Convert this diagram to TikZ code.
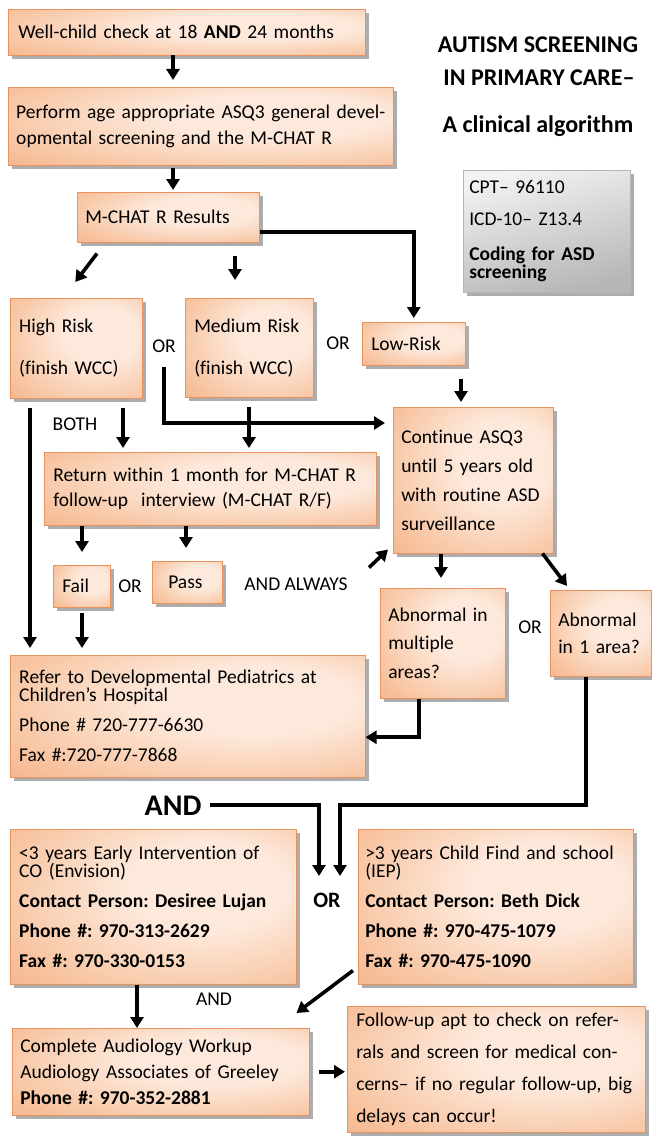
\documentclass[tikz,border=0pt]{standalone}
\usepackage{fontspec}
\setmainfont{Carlito}[Ligatures=NoCommon]
\usetikzlibrary{arrows.meta,shadows,calc}
\frenchspacing

\definecolor{peachdark}{RGB}{239,155,104}
\definecolor{peachmid}{RGB}{247,193,156}
\definecolor{peachlight}{RGB}{253,233,220}
\definecolor{peachedge}{RGB}{232,146,96}
\definecolor{greylight}{RGB}{242,242,242}
\definecolor{greymid}{RGB}{222,222,222}
\definecolor{greydark}{RGB}{182,182,182}

\pgfdeclareradialshading{peachfill}{\pgfpoint{12bp}{8bp}}{%
  color(0bp)=(peachlight); color(14bp)=(peachlight); color(36bp)=(peachmid);
  color(58bp)=(peachdark); color(70bp)=(peachdark)}

\newcommand\txtsz[1]{\fontsize{19.5}{#1}\selectfont}

\tikzset{
  box/.style={draw=peachedge, line width=0.5pt, shading=peachfill, shade,
    drop shadow={shadow xshift=3.5pt, shadow yshift=-4pt, opacity=0.32, fill=black},
    anchor=north west, align=left, inner xsep=9pt, inner ysep=0pt},
  greybox/.style={draw=greydark, line width=0.5pt, shade, top color=greylight,
    middle color=greymid, bottom color=greydark, shading angle=15,
    drop shadow={shadow xshift=3.5pt, shadow yshift=-4pt, opacity=0.32, fill=black},
    anchor=north west, align=left, inner xsep=6pt, inner ysep=0pt},
  lbl/.style={anchor=base, font=\txtsz{20}, inner sep=1pt},
  arr/.style={line width=3.6pt, -{Triangle[length=11pt, width=13pt]}},
}

\begin{document}
\begin{tikzpicture}[x=1pt, y=-1pt]
\fill[white] (0,0) rectangle (651,1137);
\useasboundingbox (0,0) rectangle (651,1137);

% title and coding box
\node[anchor=base, font=\fontsize{24}{28}\selectfont\bfseries] (title1) at (538,53) {AUTISM SCREENING};
\node[anchor=base, font=\fontsize{24}{28}\selectfont\bfseries] (title2) at (539,86) {IN PRIMARY CARE–};
\node[anchor=base, font=\fontsize{24}{28}\selectfont\bfseries] (title3) at (538,132) {A clinical algorithm};
\node[greybox, minimum width=167pt, minimum height=122pt, text width=155pt, font=\txtsz{18}] (cpt) at (463,170)
  {CPT– 96110\\[14pt]ICD-10– Z13.4\\[17pt]\textbf{Coding for ASD}\\\textbf{screening}};

% flow boxes
\node[box, minimum width=357pt, minimum height=46pt, text width=337pt, font=\txtsz{20}] (b1) at (8,9)
  {Well-child check at 18 \textbf{AND} 24 months};
\node[box, inner xsep=8pt, minimum width=385pt, minimum height=78pt, text width=369pt, font=\txtsz{26}] (b2) at (8,87)
  {Perform age appropriate ASQ3 general devel-\\opmental screening and the M-CHAT R};
\node[box, inner xsep=8pt, minimum width=182pt, minimum height=50pt, text width=166pt, font=\txtsz{20}] (mchat) at (77,192)
  {M-CHAT R Results};
\node[box, minimum width=132pt, minimum height=100pt, text width=114pt, font=\txtsz{20}] (high) at (10,298)
  {High Risk\\[22pt](finish WCC)};
\node[box, minimum width=128pt, minimum height=99pt, text width=110pt, font=\txtsz{20}] (med) at (185,298)
  {Medium Risk\\[22pt](finish WCC)};
\node[box, minimum width=103pt, minimum height=43pt, text width=85pt, font=\txtsz{20}] (low) at (362,322)
  {Low-Risk};
\node[box, inner xsep=8pt, minimum width=160pt, minimum height=146pt, text width=144pt, font=\txtsz{29}] (cont) at (393,407)
  {Continue ASQ3\\until 5 years old\\with routine ASD\\surveillance};
\node[box, minimum width=332pt, minimum height=73pt, text width=314pt, font=\txtsz{25}] (ret) at (44,452)
  {Return within 1 month for M-CHAT R\\follow-up~ interview (M-CHAT R/F)};
\node[box, minimum width=57pt, minimum height=42pt, text width=39pt, font=\txtsz{20}] (fail) at (53,565)
  {Fail};
\node[box, inner xsep=16pt, minimum width=70pt, minimum height=42pt, text width=38pt, font=\txtsz{20}] (pass) at (152,561)
  {Pass};
\node[box, inner xsep=8pt, minimum width=125pt, minimum height=110pt, text width=109pt, font=\txtsz{28.5}] (abnm) at (380,588)
  {Abnormal in\\multiple\\areas?};
\node[box, inner xsep=8pt, minimum width=101pt, minimum height=86pt, text width=85pt, font=\txtsz{27}] (abn1) at (550,590)
  {Abnormal\\in 1 area?};
\node[box, minimum width=355pt, minimum height=122pt, text width=337pt, font=\txtsz{17.5}] (refer) at (10,655)
  {Refer to Developmental Pediatrics at\\Children’s Hospital\\[13pt]Phone \# 720-777-6630\\[12.5pt]Fax \#:720-777-7868};
\node[box, minimum width=286pt, minimum height=155pt, text width=268pt, font=\txtsz{17.5}] (lt) at (10,829)
  {<3 years Early Intervention of\\CO (Envision)\\[12.5pt]\textbf{Contact Person: Desiree Lujan}\\[12.5pt]\textbf{Phone \#: 970-313-2629}\\[12.5pt]\textbf{Fax \#: 970-330-0153}};
\node[box, inner xsep=7pt, minimum width=275pt, minimum height=155pt, text width=261pt, font=\txtsz{17.5}] (rt) at (358,829)
  {>3 years Child Find and school\\(IEP)\\[12.5pt]\textbf{Contact Person: Beth Dick}\\[12.5pt]\textbf{Phone \#: 970-475-1079}\\[12.5pt]\textbf{Fax \#: 970-475-1090}};
\node[box, inner xsep=8pt, minimum width=297pt, minimum height=87pt, text width=281pt, font=\txtsz{26}] (aud) at (12,1028)
  {Complete Audiology Workup\\Audiology Associates of Greeley\\\textbf{Phone \#: 970-352-2881}};
\node[box, minimum width=298pt, minimum height=126pt, text width=280pt, font=\txtsz{32}] (fu) at (347,1006)
  {Follow-up apt to check on refer-\\rals and screen for medical con-\\cerns– if no regular follow-up, big\\delays can occur!};

% free labels
\node[lbl] (or1) at (164,352) {OR};
\node[lbl] (or2) at (338,349) {OR};
\node[lbl] (both) at (75,430) {BOTH};
\node[lbl] (or3) at (130,592) {OR};
\node[lbl] (always) at (296,590) {AND ALWAYS};
\node[lbl] (or4) at (530,633) {OR};
\node[anchor=base, font=\fontsize{30}{32}\selectfont\bfseries, inner sep=2pt] (andbig) at (173,815) {AND};
\node[anchor=base, font=\fontsize{22}{24}\selectfont\bfseries, inner sep=1pt] (or5) at (327,907) {OR};
\node[lbl] (and3) at (214,1005) {AND};

% guide columns and free connector ends
\coordinate (xa) at (173,0);
\coordinate (xm) at (235,0);
\coordinate (xl) at (461,0);
\coordinate (x30) at (30,0);
\coordinate (x123) at (123,0);
\coordinate (x249) at (249,0);
\coordinate (x82) at (82,0);
\coordinate (x186) at (186,0);
\coordinate (x441) at (441,0);
\coordinate (x419) at (419,0);
\coordinate (x586) at (586,0);
\coordinate (x137) at (137,0);
\coordinate (orstart) at (164,367);
\coordinate (tipR) at (340,876);
\coordinate (tipL) at (319,876);

% connectors
\draw[arr, shorten >=7pt] (b1.south -| xa) -- (b2.north -| xa);
\draw[arr, shorten <=2pt, shorten >=2pt] (b2.south -| xa) -- (mchat.north -| xa);
\draw[arr, shorten >=4pt] ([yshift=-15pt]mchat.east) -| (low.north);
\draw[arr] ($(mchat.south west)+(20,11)$) -- ($(high.north)+(-1,-16)$);
\draw[arr, shorten <=13pt, shorten >=18pt] (mchat.south -| xm) -- (med.north -| xm);
\draw[arr, shorten <=13pt, shorten >=5pt] (low.south -| xl) -- (cont.north -| xl);
\draw[arr, shorten >=8pt] (orstart) |- ($(cont.north west)+(0,16)$);
\draw[arr, shorten <=9pt, shorten >=7pt] (high.south -| x30) -- (refer.north -| x30);
\draw[arr, shorten <=9pt, shorten >=4pt] (high.south -| x123) -- (ret.north -| x123);
\draw[arr, shorten <=9pt, shorten >=4pt] (med.south -| x249) -- (ret.north -| x249);
\draw[arr, shorten >=13pt] (ret.south -| x82) -- (fail.north -| x82);
\draw[arr, shorten >=13pt] (ret.south -| x186) -- (pass.north -| x186);
\draw[arr] ($(cont.south west)+(-24,14)$) -- ($(cont.south west)+(-5,-4)$);
\draw[arr, shorten >=10pt] (cont.south -| x441) -- (abnm.north -| x441);
\draw[arr] ($(cont.south east)+(-11,0)$) -- ($(abn1.north west)+(17,-4)$);
\draw[arr, shorten <=5pt, shorten >=7pt] (fail.south -| x82) -- (refer.north -| x82);
\draw[arr] (abnm.south -| x419) |- ($(refer.east)+(0,21)$);
\draw[arr] (abn1.south -| x586) |- (tipR |- andbig.east) -- (tipR);
\draw[arr, shorten <=6pt] (andbig.east) -| (tipL);
\draw[arr] (lt.south -| x137) -- (aud.north -| x137);
\draw[arr] ($(rt.south west)+(-5,-14)$) -- ($(aud.north east)+(-13,-15)$);
\draw[arr, shorten <=9pt, shorten >=2pt] (aud.east) -- (aud.east -| fu.west);
\end{tikzpicture}
\end{document}
